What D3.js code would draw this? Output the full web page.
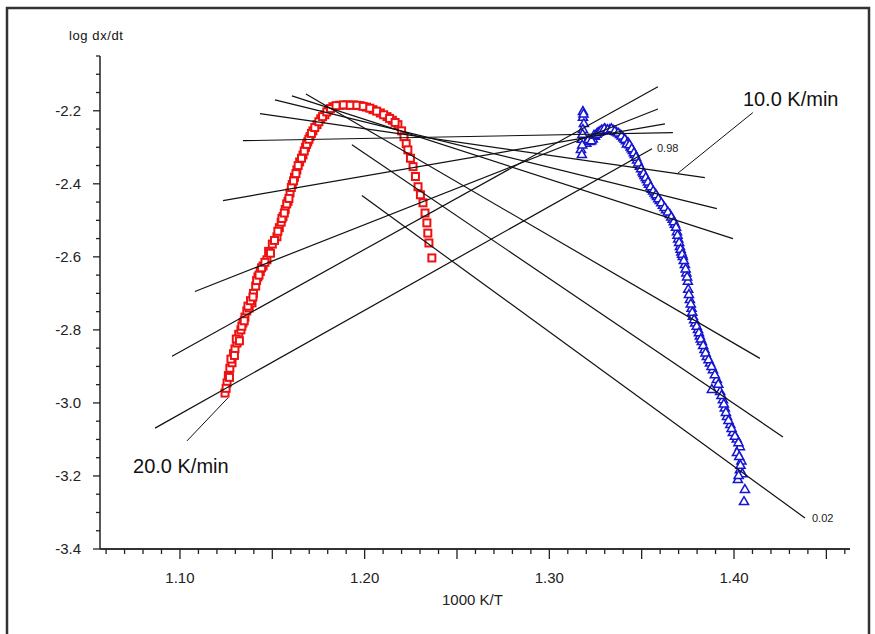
<!DOCTYPE html>
<html>
<head>
<meta charset="utf-8">
<script src="https://cdn.jsdelivr.net/npm/d3@7"></script>
<style>
  body { margin: 0; background: #fff; }
  text { font-family: "Liberation Sans", Arial, sans-serif; }
</style>
</head>
<body>
<svg width="875" height="634"></svg>
<script>
var svg = d3.select('svg');

// 20.0 K/min run (red squares)
var red1000T = [1.1244,1.1255,1.1262,1.1270,1.1282,1.1290,1.1298,1.1309,1.1318,1.1330,1.1341,1.1352,1.1362,1.1375,1.1390,1.1398,1.1410,1.1422,1.1435,1.1450,1.1471,1.1480,1.1500,1.1525,1.1538,1.1548,1.1558,1.1570,1.1585,1.1596,1.1608,1.1620,1.1633,1.1648,1.1666,1.1680,1.1692,1.1704,1.1720,1.1742,1.1762,1.1785,1.1805,1.1828,1.1865,1.1904,1.1940,1.1975,1.2010,1.2045,1.2085,1.2121,1.2150,1.2180,1.2200,1.2213,1.2225,1.2234,1.2248,1.2262,1.2275,1.2289,1.2302,1.2316,1.2327,1.2337,1.2342,1.2348,1.2364,
    1.1250,1.1268,1.1276,1.1295,1.1305,1.1322,1.1335,1.1348,1.1368,1.1382,1.1395,1.1415,1.1428,1.1442,1.1460,1.1490,1.1512,1.1530,1.1552,1.1565,1.1578,1.1590,1.1603,1.1615,1.1628,1.1640,1.1658,1.1673,1.1686,1.1698,1.1712,1.1730,1.1752,1.1772,1.1795,1.1815,1.1845,1.1885,1.1922,1.1958,1.1992,1.2028,1.2065,1.2103,1.2135,1.2165];
var redLogRate = [-2.973,-2.945,-2.925,-2.905,-2.890,-2.865,-2.852,-2.836,-2.812,-2.800,-2.781,-2.765,-2.748,-2.740,-2.726,-2.700,-2.680,-2.655,-2.640,-2.625,-2.608,-2.585,-2.565,-2.545,-2.520,-2.505,-2.490,-2.470,-2.448,-2.425,-2.402,-2.382,-2.362,-2.340,-2.321,-2.300,-2.285,-2.271,-2.255,-2.238,-2.222,-2.211,-2.198,-2.189,-2.185,-2.184,-2.184,-2.186,-2.190,-2.197,-2.206,-2.216,-2.226,-2.238,-2.255,-2.271,-2.290,-2.307,-2.330,-2.353,-2.380,-2.408,-2.430,-2.452,-2.480,-2.507,-2.535,-2.562,-2.603,
    -2.960,-2.930,-2.880,-2.870,-2.825,-2.830,-2.790,-2.775,-2.735,-2.720,-2.710,-2.665,-2.650,-2.630,-2.615,-2.590,-2.555,-2.530,-2.495,-2.480,-2.455,-2.440,-2.410,-2.392,-2.372,-2.350,-2.330,-2.310,-2.292,-2.278,-2.262,-2.246,-2.230,-2.216,-2.203,-2.194,-2.186,-2.184,-2.185,-2.185,-2.188,-2.193,-2.201,-2.211,-2.221,-2.232];

// 10.0 K/min run (blue triangles)
var blue1000T = [1.3182,1.3182,1.3187,1.3182,1.3176,1.3171,1.3176,1.3200,1.3220,1.3235,1.3247,1.3260,1.3274,1.3290,1.3305,1.3328,1.3345,1.3362,1.3382,1.3400,1.3415,1.3426,1.3440,1.3452,1.3463,1.3475,1.3490,1.3505,1.3515,1.3528,1.3540,1.3555,1.3570,1.3583,1.3598,1.3615,1.3632,1.3653,1.3668,1.3680,1.3691,1.3698,1.3707,1.3715,1.3723,1.3734,1.3742,1.3750,1.3752,1.3761,1.3770,1.3777,1.3790,1.3805,1.3815,1.3826,1.3840,1.3853,1.3870,1.3886,1.3907,1.3880,1.3925,1.3940,1.3950,1.3962,1.3980,1.3994,1.4015,1.4032,1.4016,1.4040,1.4032,1.4021,1.4045,1.4059,1.4054,
    1.3185,1.3180,1.3178,1.3212,1.3228,1.3242,1.3255,1.3268,1.3282,1.3298,1.3316,1.3336,1.3354,1.3372,1.3391,1.3408,1.3420,1.3434,1.3446,1.3458,1.3469,1.3482,1.3497,1.3510,1.3522,1.3534,1.3548,1.3562,1.3577,1.3590,1.3606,1.3624,1.3642,1.3660,1.3674,1.3686,1.3694,1.3703,1.3711,1.3719,1.3728,1.3738,1.3746,1.3756,1.3766,1.3774,1.3784,1.3798,1.3810,1.3820,1.3833,1.3846,1.3862,1.3878,1.3896,1.3915,1.3932,1.3945,1.3956,1.3970,1.3987,1.4005,1.4024,1.4028,1.4035,1.4025];
var blueLogRate = [-2.203,-2.219,-2.236,-2.252,-2.279,-2.307,-2.321,-2.290,-2.285,-2.278,-2.271,-2.262,-2.258,-2.255,-2.252,-2.252,-2.254,-2.259,-2.266,-2.275,-2.283,-2.288,-2.300,-2.310,-2.321,-2.336,-2.353,-2.368,-2.378,-2.389,-2.402,-2.416,-2.426,-2.436,-2.447,-2.460,-2.472,-2.485,-2.498,-2.512,-2.532,-2.552,-2.573,-2.588,-2.600,-2.622,-2.645,-2.668,-2.690,-2.718,-2.742,-2.764,-2.782,-2.800,-2.818,-2.833,-2.855,-2.874,-2.892,-2.910,-2.937,-2.964,-2.970,-2.992,-3.015,-3.038,-3.060,-3.082,-3.100,-3.121,-3.137,-3.160,-3.184,-3.211,-3.195,-3.238,-3.271,
    -2.210,-2.265,-2.295,-2.280,-2.283,-2.268,-2.265,-2.260,-2.254,-2.250,-2.253,-2.250,-2.257,-2.262,-2.270,-2.279,-2.292,-2.294,-2.305,-2.316,-2.328,-2.344,-2.360,-2.373,-2.384,-2.396,-2.409,-2.421,-2.431,-2.442,-2.453,-2.466,-2.478,-2.492,-2.505,-2.520,-2.542,-2.562,-2.580,-2.594,-2.611,-2.634,-2.656,-2.704,-2.730,-2.753,-2.773,-2.791,-2.809,-2.826,-2.844,-2.864,-2.883,-2.901,-2.924,-2.950,-2.981,-3.004,-3.027,-3.049,-3.071,-3.092,-3.110,-3.148,-3.172,-3.200];

// isoconversion lines, conversion 0.02 ... 0.98
var conversions = [0.02,0.1,0.2,0.3,0.4,0.5,0.6,0.7,0.8,0.9,0.98];
var isoX1 = [1.1985,1.1931,1.1682,1.1606,1.1514,1.1433,1.1341,1.1233,1.1081,1.0957,1.0865];
var isoY1 = [-2.432,-2.293,-2.154,-2.159,-2.170,-2.208,-2.282,-2.446,-2.695,-2.872,-3.069];
var isoX2 = [1.4384,1.4265,1.4140,1.3994,1.3907,1.3842,1.3669,1.3626,1.3588,1.3588,1.3556];
var isoY2 = [-3.315,-3.093,-2.878,-2.550,-2.468,-2.383,-2.260,-2.236,-2.195,-2.134,-2.304];

var yMajor = [-3.4,-3.2,-3.0,-2.8,-2.6,-2.4,-2.2];
var yLabels = ['-3.4','-3.2','-3.0','-2.8','-2.6','-2.4','-2.2'];
var xMajor = [1.10,1.20,1.30,1.40];
var xLabels = ['1.10','1.20','1.30','1.40'];

var x = d3.scaleLinear().domain([1.0567, 1.4628]).range([100, 850]);
var y = d3.scaleLinear().domain([-3.4, -2.05]).range([549, 56]);

// frame
svg.append('rect')
    .attr('x', 7).attr('y', 8)
    .attr('width', 862).attr('height', 640)
    .attr('fill', 'none')
    .attr('stroke', '#333')
    .attr('stroke-width', 2.5);

// y axis
var yMinor = d3.range(-3.4, -2.049, 0.05);
svg.append('line')
    .attr('x1', 100).attr('x2', 100)
    .attr('y1', y(-2.05)).attr('y2', y(-3.4))
    .attr('stroke', '#222').attr('stroke-width', 1.5);
svg.selectAll('.ytick')
    .data(yMinor)
    .enter()
    .append('line')
    .attr('x1', function(d){
        var major = Math.abs(Math.round(d * 5) - d * 5) < 1e-6;
        return major ? 93 : 96;
    })
    .attr('x2', 100)
    .attr('y1', function(d){ return y(d); })
    .attr('y2', function(d){ return y(d); })
    .attr('stroke', '#222').attr('stroke-width', 1.3);
svg.selectAll('.ylab')
    .data(yMajor)
    .enter()
    .append('text')
    .attr('x', 81)
    .attr('y', function(d){ return y(d) + 5; })
    .attr('text-anchor', 'end')
    .attr('font-size', 15)
    .attr('fill', '#222')
    .text(function(d, i){ return yLabels[i]; });

// x axis
var xMinor = d3.range(1.06, 1.4601, 0.01);
svg.append('line')
    .attr('x1', 100).attr('x2', 850)
    .attr('y1', 549).attr('y2', 549)
    .attr('stroke', '#333').attr('stroke-width', 2);
svg.selectAll('.xtick')
    .data(xMinor)
    .enter()
    .append('line')
    .attr('x1', function(d){ return x(d); })
    .attr('x2', function(d){ return x(d); })
    .attr('y1', 549)
    .attr('y2', function(d){
        var mid = Math.abs(Math.round(d * 20) - d * 20) < 1e-6;
        return mid ? 559 : 554;
    })
    .attr('stroke', '#222').attr('stroke-width', 1.3);
svg.selectAll('.xlab')
    .data(xMajor)
    .enter()
    .append('text')
    .attr('x', function(d){ return x(d); })
    .attr('y', 583)
    .attr('text-anchor', 'middle')
    .attr('font-size', 15)
    .attr('fill', '#222')
    .text(function(d, i){ return xLabels[i]; });

svg.append('text')
    .attr('x', 442).attr('y', 605)
    .attr('font-size', 15)
    .attr('fill', '#222')
    .text('1000 K/T');
svg.append('text')
    .attr('x', 69).attr('y', 40)
    .attr('font-size', 13)
    .attr('letter-spacing', 0.6)
    .attr('fill', '#111')
    .text('log dx/dt');

// red squares
svg.selectAll('.red')
    .data(red1000T)
    .enter()
    .append('rect')
    .attr('x', function(d){ return x(d) - 3.5; })
    .attr('y', function(d, i){ return y(redLogRate[i]) - 3.5; })
    .attr('width', 7).attr('height', 7)
    .attr('fill', '#fff')
    .attr('stroke', '#ee1111')
    .attr('stroke-width', 2);

// blue triangles
var tri = d3.symbol().type(d3.symbolTriangle).size(36);
svg.selectAll('.blue')
    .data(blue1000T)
    .enter()
    .append('path')
    .attr('d', tri)
    .attr('transform', function(d, i){
        return 'translate(' + x(d) + ',' + y(blueLogRate[i]) + ')';
    })
    .attr('fill', '#fff')
    .attr('stroke', '#1515d0')
    .attr('stroke-width', 1.5);

// isoconversion lines
svg.selectAll('.iso')
    .data(conversions)
    .enter()
    .append('line')
    .attr('x1', function(d, i){ return x(isoX1[i]); })
    .attr('y1', function(d, i){ return y(isoY1[i]); })
    .attr('x2', function(d, i){ return x(isoX2[i]); })
    .attr('y2', function(d, i){ return y(isoY2[i]); })
    .attr('stroke', '#111')
    .attr('stroke-width', 1.2);

// conversion labels at the ends
svg.append('text')
    .attr('x', x(1.3583)).attr('y', y(-2.312))
    .attr('font-size', 11).attr('fill', '#222')
    .text('0.98');
svg.append('text')
    .attr('x', x(1.4422)).attr('y', y(-3.326))
    .attr('font-size', 11).attr('fill', '#222')
    .text('0.02');

// heating rate labels with pointers
svg.append('line')
    .attr('x1', x(1.3691)).attr('y1', y(-2.373))
    .attr('x2', x(1.4102)).attr('y2', y(-2.205))
    .attr('stroke', '#111').attr('stroke-width', 1);
svg.append('text')
    .attr('x', x(1.4048)).attr('y', y(-2.186))
    .attr('font-size', 20).attr('fill', '#111')
    .text('10.0 K/min');
svg.append('line')
    .attr('x1', x(1.1038)).attr('y1', y(-3.104))
    .attr('x2', x(1.1260)).attr('y2', y(-2.986))
    .attr('stroke', '#111').attr('stroke-width', 1);
svg.append('text')
    .attr('x', x(1.0746)).attr('y', y(-3.192))
    .attr('font-size', 20).attr('fill', '#111')
    .text('20.0 K/min');
</script>
</body>
</html>
